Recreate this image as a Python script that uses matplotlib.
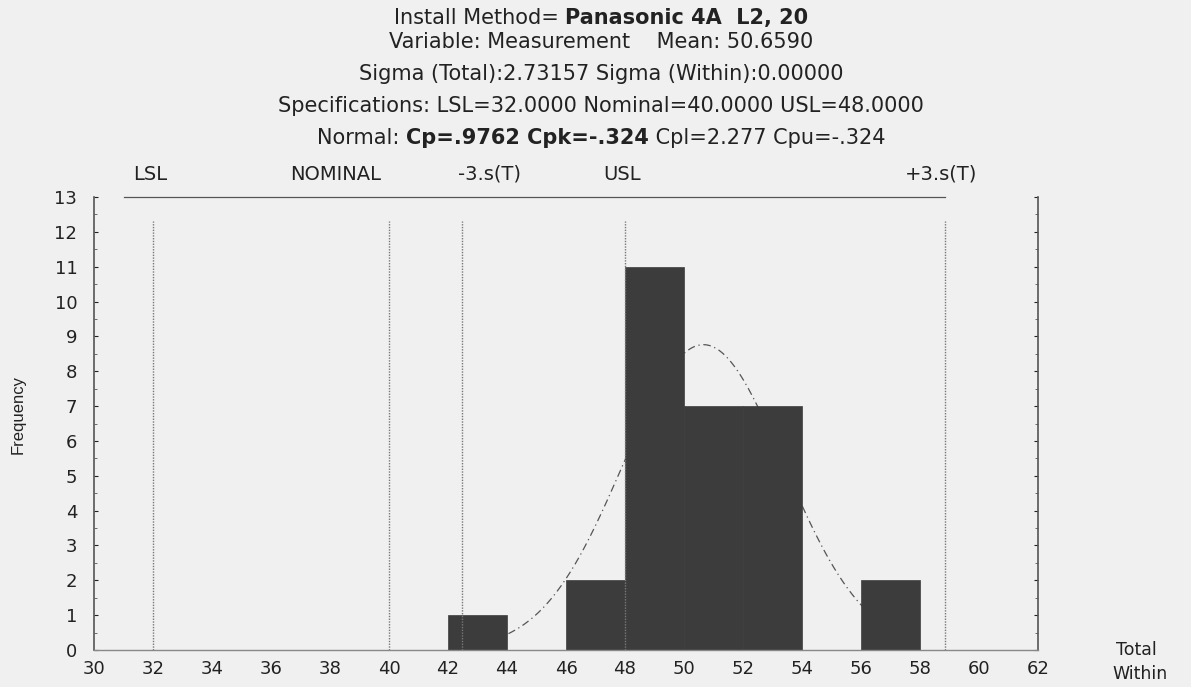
import numpy as np
import matplotlib.pyplot as plt
from matplotlib.ticker import MultipleLocator

# Histogram of measurements (bin edges and counts)
bin_edges = [42, 44, 46, 48, 50, 52, 54, 56, 58]
counts = [1, 0, 2, 11, 7, 7, 0, 2]

# Process statistics and specification limits
mean = 50.6590
sigma_total = 2.73157
lsl, nominal, usl = 32.0, 40.0, 48.0

x_ticks = list(range(30, 63, 2))
y_ticks = list(range(0, 14))

BG = "#f0f0f0"
BAR = "#3c3c3c"
TXT = "#222222"

plt.rcParams["font.family"] = ["DejaVu Sans"]

W, H = 1191, 687
fig = plt.figure(figsize=(W / 100, H / 100), dpi=100, facecolor=BG)
ax = fig.add_axes([94 / W, 1 - 650 / H, (1038 - 94) / W, (650 - 197) / H])
ax.set_facecolor(BG)

# Fitted normal curve (scaled to counts), drawn behind the bars
n = sum(counts)
bw = bin_edges[1] - bin_edges[0]
xs = np.linspace(mean - 3 * sigma_total, bin_edges[-1], 300)
pdf = np.exp(-0.5 * ((xs - mean) / sigma_total) ** 2) / (sigma_total * np.sqrt(2 * np.pi))
ax.plot(xs, n * bw * pdf, color="#555555", lw=0.9, ls=(0, (6, 3, 1, 3)), zorder=1)

# Bars
lefts = bin_edges[:-1]
widths = np.diff(bin_edges)
ax.bar(lefts, counts, width=widths, align="edge", color=BAR, edgecolor=BAR,
       linewidth=0.5, zorder=2)

# Reference lines: LSL, nominal, -3s, USL, +3s
ref_lines = [lsl, nominal, mean - 3 * sigma_total, usl, mean + 3 * sigma_total]
ax.vlines(ref_lines, 0, 12.3, colors="#777777", linestyles=(0, (1, 1)), lw=1.0, zorder=3)

# Line along the top of the plot and labels above it
ax.plot([31, mean + 3 * sigma_total], [13, 13], color="#555555", lw=0.9,
        clip_on=False, zorder=3)
ref_labels = [("LSL", 31.9), ("NOMINAL", 38.2), ("-3.s(T)", 43.4),
              ("USL", 47.9), ("+3.s(T)", 58.7)]
for lab, xp in ref_labels:
    ax.text(xp, 13.65, lab, ha="center", va="center", fontsize=14, color=TXT,
            clip_on=False)

ax.set_xlim(30, 62)
ax.set_ylim(0, 13)
ax.set_xticks(x_ticks)
ax.set_yticks(y_ticks)
ax.yaxis.set_minor_locator(MultipleLocator(0.5))
ax.tick_params(axis="both", labelsize=13, colors=TXT, direction="in", length=3)
ax.tick_params(axis="x", length=0, pad=7)
ax.tick_params(axis="y", pad=12)
ax.tick_params(axis="y", which="minor", direction="in", length=2, color="#555555")
ax.tick_params(axis="y", right=True, which="both")
for side in ("left", "right"):
    ax.spines[side].set_color("#555555")
    ax.spines[side].set_linewidth(1.2)
ax.spines["top"].set_visible(False)
ax.spines["bottom"].set_color("#888888")
ax.spines["bottom"].set_linewidth(1.0)

fig.text(18 / W, 1 - 415 / H, "Frequency", rotation=90, ha="center", va="center",
         fontsize=12, color=TXT, family="Liberation Sans")
fig.text(1116 / W, 1 - 650 / H, "Total", ha="left", va="center", fontsize=12.5, color=TXT)
fig.text(1112 / W, 1 - 674 / H, "Within", ha="left", va="center", fontsize=12.5, color=TXT)

# Header block, with mixed-weight lines assembled from pieces
header = [
    (18, [("Install Method= ", "normal"), ("Panasonic 4A  L2, 20", "bold")]),
    (42, [("Variable: Measurement    Mean: 50.6590", "normal")]),
    (74, [("Sigma (Total):2.73157 Sigma (Within):0.00000", "normal")]),
    (106, [("Specifications: LSL=32.0000 Nominal=40.0000 USL=48.0000", "normal")]),
    (138, [("Normal: ", "normal"), ("Cp=.9762 Cpk=-.324", "bold"),
           (" Cpl=2.277 Cpu=-.324", "normal")]),
]
renderer = fig.canvas.get_renderer()
cx = 601
for ypix, parts in header:
    texts = [fig.text(0, 1 - ypix / H, s, fontsize=15, fontweight=w, color=TXT,
                      ha="left", va="center") for s, w in parts]
    ws = [t.get_window_extent(renderer).width for t in texts]
    x = cx - sum(ws) / 2
    for t, w in zip(texts, ws):
        t.set_x(x / W)
        x += w

fig.savefig("out.png", dpi=100, facecolor=BG)
